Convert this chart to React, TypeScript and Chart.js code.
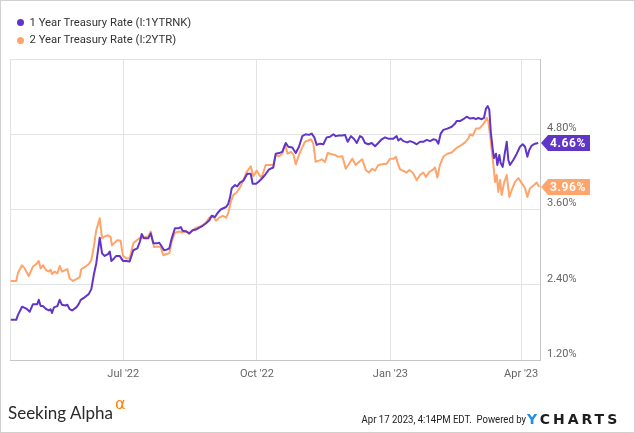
import React, { useEffect, useRef } from "react";
import { Chart, registerables } from "chart.js";

Chart.register(...registerables);

// ---------- data ----------
const seriesNames = ["1 Year Treasury Rate (I:1YTRNK)", "2 Year Treasury Rate (I:2YTR)"];

// x = days since Apr 14 2022
const xTickDays = [0, 78, 170, 262, 352];
const xTickLabels = ["", "Jul '22", "Oct '22", "Jan '23", "Apr '23"];
const yTickValues = [1.2, 2.4, 3.6, 4.8, 6.0];
const yTickLabels = ["1.20%", "2.40%", "3.60%", "4.80%", ""];

const oneYearDays = [
  0.5, 4.3, 5.5, 8.3, 11.2, 13.6, 15.8, 18.8, 19.8, 21.1,
  22.7, 25.0, 26.7, 28.0, 28.9, 30.3, 32.6, 34.2, 35.8, 38.1,
  39.5, 41.1, 42.7, 45.7, 47.3, 48.7, 51.4, 54.2, 56.0, 57.9,
  59.4, 61.8, 63.4, 65.2, 67.5, 68.7, 69.8, 71.6, 73.2, 75.5,
  77.8, 80.1, 82.4, 84.9, 87.7, 89.5, 90.7, 92.3, 95.2, 96.9,
  98.7, 101.0, 102.8, 104.5, 106.1, 107.9, 109.7, 111.4, 113.6, 115.9,
  117.6, 118.9, 121.2, 123.5, 125.8, 128.1, 130.4, 132.7, 135.0, 137.3,
  138.9, 141.2, 142.8, 145.1, 146.9, 148.8, 150.3, 151.5, 152.7, 155.0,
  156.5, 158.4, 160.7, 163.4, 165.8, 167.1, 169.4, 171.0, 173.3, 175.6,
  178.4, 181.3, 183.0, 185.3, 187.5, 189.9, 191.7, 194.4, 196.8, 199.0,
  201.3, 203.6, 205.9, 207.8, 209.6, 211.2, 213.5, 215.8, 218.1, 220.4,
  222.7, 224.3, 226.6, 228.9, 230.7, 232.6, 234.8, 237.1, 238.8, 241.0,
  242.6, 244.5, 246.8, 249.1, 251.4, 253.6, 256.0, 258.3, 260.5, 264.0,
  266.3, 267.4, 269.1, 270.9, 273.6, 275.5, 277.8, 280.1, 282.4, 284.6,
  287.0, 289.3, 291.5, 293.4, 295.0, 296.6, 298.4, 301.2, 304.2, 306.5,
  307.6, 309.9, 312.2, 314.5, 316.8, 319.1, 320.9, 322.5, 324.9, 326.4,
  327.8, 329.0, 330.1, 331.1, 332.4, 333.3, 334.7, 335.6, 337.0, 337.9,
  339.3, 340.9, 342.1, 343.2, 344.3, 346.6, 349.0, 351.2, 353.1, 354.7,
  356.3, 357.6, 359.3, 361.6, 363.8,
];
const oneYearRates = [
  1.84, 1.84, 1.92, 2.05, 2.02, 1.97, 2.09, 2.09, 2.16, 2.06,
  2.06, 2.01, 1.99, 2.01, 1.95, 2.04, 2.06, 2.16, 2.08, 2.07,
  2.08, 2.01, 1.99, 2.04, 2.09, 2.16, 2.20, 2.25, 2.33, 2.58,
  2.74, 3.15, 2.90, 2.86, 2.89, 2.93, 2.78, 2.82, 2.86, 2.86,
  2.78, 2.78, 2.77, 2.95, 2.98, 3.09, 3.21, 3.14, 3.14, 3.22,
  3.06, 3.06, 3.07, 3.01, 2.95, 2.96, 2.98, 3.14, 3.30, 3.30,
  3.32, 3.26, 3.25, 3.22, 3.27, 3.28, 3.31, 3.34, 3.38, 3.43,
  3.50, 3.48, 3.54, 3.60, 3.62, 3.64, 3.69, 3.79, 3.94, 3.99,
  3.97, 4.03, 4.06, 4.17, 4.17, 4.01, 4.01, 4.04, 4.09, 4.15,
  4.24, 4.27, 4.49, 4.50, 4.52, 4.66, 4.60, 4.59, 4.50, 4.60,
  4.77, 4.80, 4.79, 4.81, 4.75, 4.63, 4.65, 4.64, 4.75, 4.76,
  4.80, 4.77, 4.78, 4.78, 4.79, 4.68, 4.77, 4.72, 4.66, 4.77,
  4.75, 4.66, 4.64, 4.66, 4.61, 4.66, 4.72, 4.75, 4.73, 4.73,
  4.77, 4.70, 4.73, 4.69, 4.67, 4.69, 4.67, 4.64, 4.68, 4.68,
  4.71, 4.69, 4.72, 4.71, 4.65, 4.81, 4.87, 4.89, 4.92, 4.97,
  5.01, 5.01, 5.04, 5.08, 5.05, 5.06, 5.04, 5.06, 5.04, 5.06,
  5.21, 5.25, 5.19, 4.84, 4.57, 4.42, 4.49, 4.31, 4.47, 4.34,
  4.28, 4.52, 4.68, 4.39, 4.31, 4.39, 4.49, 4.60, 4.64, 4.60,
  4.44, 4.55, 4.62, 4.65, 4.66,
];

const twoYearDays = [
  0.5, 4.3, 5.5, 8.3, 10.1, 12.9, 15.8, 18.1, 19.8, 21.1,
  22.7, 25.0, 26.7, 28.0, 28.9, 30.8, 32.6, 34.2, 35.8, 37.7,
  39.5, 41.1, 43.4, 45.7, 48.0, 49.1, 51.4, 54.2, 56.0, 57.9,
  59.4, 61.8, 63.4, 65.2, 67.5, 69.3, 70.2, 72.1, 73.9, 76.2,
  77.8, 80.1, 82.4, 84.9, 87.3, 89.0, 90.7, 93.0, 95.2, 96.9,
  99.2, 101.4, 103.8, 105.6, 107.9, 109.7, 111.4, 113.6, 116.6, 118.9,
  121.2, 123.5, 125.8, 128.1, 130.4, 132.7, 135.0, 137.3, 139.6, 141.9,
  144.1, 146.5, 148.8, 150.3, 152.0, 153.8, 156.1, 158.4, 160.7, 163.0,
  165.8, 167.6, 169.9, 171.7, 173.3, 176.1, 179.1, 181.3, 183.0, 185.3,
  187.5, 189.4, 191.2, 193.5, 195.1, 196.8, 199.0, 200.9, 203.2, 205.4,
  207.3, 208.9, 210.5, 212.8, 214.7, 216.9, 218.8, 221.6, 223.8, 226.1,
  228.9, 231.2, 233.5, 235.7, 238.1, 240.4, 242.6, 245.0, 247.2, 249.5,
  251.4, 253.6, 256.4, 259.4, 261.7, 264.0, 265.8, 266.7, 268.6, 271.4,
  273.2, 275.0, 277.3, 280.1, 282.4, 284.6, 286.5, 288.8, 291.1, 292.7,
  294.3, 296.1, 298.4, 301.2, 304.2, 306.5, 308.7, 311.1, 313.4, 315.6,
  316.8, 318.7, 320.9, 323.2, 325.5, 327.1, 328.3, 329.4, 330.6, 331.7,
  332.9, 334.0, 335.2, 336.3, 337.5, 338.6, 340.2, 342.1, 343.9, 345.5,
  347.8, 350.1, 352.4, 354.7, 356.3, 358.1, 360.9, 362.7, 364.5,
];
const twoYearRates = [
  2.46, 2.46, 2.59, 2.71, 2.66, 2.54, 2.69, 2.73, 2.78, 2.66,
  2.71, 2.63, 2.61, 2.64, 2.57, 2.61, 2.58, 2.70, 2.61, 2.63,
  2.65, 2.50, 2.46, 2.49, 2.52, 2.65, 2.68, 2.73, 2.79, 3.03,
  3.27, 3.46, 3.14, 3.17, 3.19, 3.16, 3.03, 3.07, 3.11, 3.10,
  2.86, 2.82, 2.82, 3.06, 3.11, 3.14, 3.14, 3.16, 3.17, 3.25,
  3.00, 3.01, 3.00, 2.87, 2.89, 2.90, 3.09, 3.23, 3.25, 3.23,
  3.26, 3.21, 3.27, 3.31, 3.32, 3.35, 3.39, 3.47, 3.50, 3.42,
  3.47, 3.50, 3.47, 3.54, 3.72, 3.83, 3.87, 3.95, 4.07, 4.20,
  4.29, 4.13, 4.22, 4.15, 4.11, 4.31, 4.31, 4.31, 4.47, 4.45,
  4.49, 4.64, 4.49, 4.52, 4.48, 4.32, 4.47, 4.57, 4.68, 4.70,
  4.72, 4.65, 4.36, 4.38, 4.40, 4.36, 4.50, 4.48, 4.47, 4.44,
  4.45, 4.25, 4.33, 4.41, 4.31, 4.36, 4.40, 4.23, 4.19, 4.25,
  4.22, 4.31, 4.32, 4.33, 4.41, 4.41, 4.44, 4.36, 4.24, 4.21,
  4.19, 4.23, 4.19, 4.07, 4.15, 4.19, 4.12, 4.20, 4.23, 4.27,
  4.11, 4.31, 4.44, 4.49, 4.51, 4.56, 4.60, 4.63, 4.67, 4.73,
  4.80, 4.78, 4.89, 4.89, 4.95, 5.00, 5.06, 5.00, 4.79, 4.55,
  4.31, 4.04, 4.15, 3.88, 4.07, 3.83, 4.02, 4.15, 3.80, 3.91,
  4.04, 4.10, 4.02, 3.94, 3.80, 3.94, 3.99, 4.03, 3.96,
];

// ---------- styles ----------
const PURPLE = "#6135c8";
const ORANGE = "#ffa46a";
const GRID = "#e3e3e3";
const BORDER = "#c6c6c6";
const TICK = "#666666";

const lastValuePlugin = {
  id: "lastValueTags",
  afterDatasetsDraw(chart: any) {
    const { ctx, chartArea } = chart;
    const yScale = chart.scales.y;
    chart.data.datasets.forEach((ds: any) => {
      const last = ds.data[ds.data.length - 1];
      const yy = Math.round(yScale.getPixelForValue(last.y));
      const x0 = chartArea.right + 1;
      const h = 16;
      ctx.save();
      ctx.fillStyle = ds.borderColor;
      ctx.beginPath();
      ctx.moveTo(x0, yy);
      ctx.lineTo(x0 + 7, yy - h / 2);
      ctx.lineTo(x0 + 49, yy - h / 2);
      ctx.lineTo(x0 + 49, yy + h / 2);
      ctx.lineTo(x0 + 7, yy + h / 2);
      ctx.closePath();
      ctx.fill();
      ctx.fillStyle = "#ffffff";
      ctx.font = "bold 12px Roboto";
      ctx.textBaseline = "middle";
      ctx.textAlign = "left";
      (ctx as any).letterSpacing = "0.6px";
      ctx.fillText(last.y.toFixed(2) + "%", x0 + 9, yy + 1);
      ctx.restore();
    });
  },
};

export default function App() {
  const canvasRef = useRef<HTMLCanvasElement | null>(null);

  useEffect(() => {
    if (!canvasRef.current) return;
    const chart = new Chart(canvasRef.current, {
      type: "line",
      data: {
        datasets: [
          {
            label: seriesNames[0],
            data: oneYearDays.map((d, i) => ({ x: d, y: oneYearRates[i] })),
            borderColor: PURPLE,
            backgroundColor: PURPLE,
            borderWidth: 2,
            pointRadius: 0,
            tension: 0,
            borderJoinStyle: "round",
          },
          {
            label: seriesNames[1],
            data: twoYearDays.map((d, i) => ({ x: d, y: twoYearRates[i] })),
            borderColor: ORANGE,
            backgroundColor: ORANGE,
            borderWidth: 2,
            pointRadius: 0,
            tension: 0,
            borderJoinStyle: "round",
          },
        ],
      },
      options: {
        responsive: false,
        animation: false,
        devicePixelRatio: 1,
        layout: { padding: { left: 10, top: 59, right: 0, bottom: 0 } },
        plugins: { legend: { display: false }, tooltip: { enabled: false } },
        scales: {
          x: {
            type: "linear",
            min: 0,
            max: 365,
            afterBuildTicks: (s: any) => {
              s.ticks = xTickDays.map((v) => ({ value: v }));
            },
            afterFit: (s: any) => {
              s.height = 73;
            },
            grid: { color: GRID, drawTicks: false, lineWidth: 1 },
            border: { display: true, color: BORDER, width: 1 },
            ticks: {
              padding: 8,
              color: TICK,
              font: { family: "Roboto", size: 11 },
              maxRotation: 0,
              autoSkip: false,
              callback: (_v: any, i: number) => xTickLabels[i],
            },
          },
          y: {
            position: "right",
            min: 1.2,
            max: 6.0,
            afterBuildTicks: (s: any) => {
              s.ticks = yTickValues.map((v) => ({ value: v }));
            },
            afterFit: (s: any) => {
              s.width = 95;
            },
            grid: { color: GRID, drawTicks: false, lineWidth: 1 },
            border: { display: true, color: BORDER, width: 1 },
            ticks: {
              padding: 7,
              labelOffset: -6,
              color: TICK,
              font: { family: "Roboto", size: 11 },
              autoSkip: false,
              callback: (_v: any, i: number) => yTickLabels[i],
            },
          },
        },
      },
      plugins: [lastValuePlugin],
    } as any);
    return () => chart.destroy();
  }, []);

  const legendText: React.CSSProperties = {
    position: "absolute",
    left: 29.5,
    fontFamily: "Roboto",
    fontSize: 11.3,
    lineHeight: "14px",
    color: "#333",
    whiteSpace: "nowrap",
  };
  const dot = (c: string, top: number): React.CSSProperties => ({
    position: "absolute",
    left: 16.5,
    top,
    width: 7,
    height: 7,
    borderRadius: "50%",
    background: c,
  });

  return (
    <div
      style={{
        position: "relative",
        width: 635,
        height: 433,
        overflow: "hidden",
        background: "#fff",
      }}
    >
      <style>{`body{margin:0}`}</style>
      <canvas
        ref={canvasRef}
        width={635}
        height={433}
        style={{ position: "absolute", left: 0, top: 0, width: 635, height: 433 }}
      />
      <div style={dot(PURPLE, 19.2)} />
      <div style={{ ...legendText, top: 16.4 }}>{seriesNames[0]}</div>
      <div style={dot(ORANGE, 36.5)} />
      <div style={{ ...legendText, top: 32.8 }}>{seriesNames[1]}</div>

      <div
        style={{
          position: "absolute",
          left: 8,
          top: 404,
          fontFamily: "Lato",
          fontSize: 17,
          lineHeight: "17px",
          color: "#2a2a2a",
          whiteSpace: "nowrap",
        }}
      >
        Seeking Alpha
        <span
          style={{
            position: "absolute",
            left: 107,
            top: -9,
            color: "#ff7f00",
            fontSize: 16,
            fontFamily: "DejaVu Sans",
          }}
        >
          α
        </span>
      </div>

      <div
        style={{
          position: "absolute",
          right: 109,
          top: 413.7,
          fontFamily: "Roboto",
          fontSize: 11,
          lineHeight: "11px",
          color: "#222",
          whiteSpace: "nowrap",
          transform: "scaleX(0.87)",
          transformOrigin: "right center",
        }}
      >
        Apr 17 2023, 4:14PM EDT.&nbsp;&nbsp;Powered by
      </div>
      <div
        style={{
          position: "absolute",
          left: 527,
          top: 411.5,
          fontFamily: "DejaVu Sans",
          fontWeight: "bold",
          fontSize: 14,
          lineHeight: "14px",
          whiteSpace: "nowrap",
          letterSpacing: 3,
        }}
      >
        <span style={{ color: "#1f8fe6" }}>Y</span>
        <span style={{ color: "#1d1d1d" }}>CHARTS</span>
      </div>

      <div
        style={{
          position: "absolute",
          left: 0,
          top: 0,
          width: 635,
          height: 433,
          boxSizing: "border-box",
          border: "1px solid #d0d0d0",
          pointerEvents: "none",
        }}
      />
    </div>
  );
}
